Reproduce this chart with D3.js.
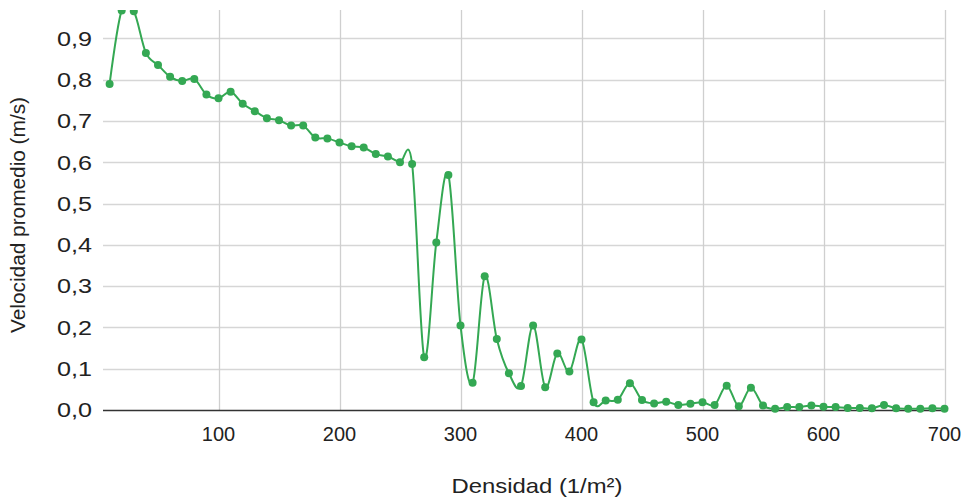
<!DOCTYPE html>
<html>
<head>
<meta charset="utf-8">
<script src="https://cdn.jsdelivr.net/npm/d3@7"></script>
<style>
  body { margin: 0; background: #fff; }
  svg { display: block; font-family: "Liberation Sans", Arial, sans-serif; }
</style>
</head>
<body>
<svg width="961" height="500"></svg>
<script>
// densidad (1/m²)
const densidad = [10, 20, 30, 40, 50, 60, 70, 80, 90, 100,
  110, 120, 130, 140, 150, 160, 170, 180, 190, 200,
  210, 220, 230, 240, 250, 260, 270, 280, 290, 300,
  310, 320, 330, 340, 350, 360, 370, 380, 390, 400,
  410, 420, 430, 440, 450, 460, 470, 480, 490, 500,
  510, 520, 530, 540, 550, 560, 570, 580, 590, 600,
  610, 620, 630, 640, 650, 660, 670, 680, 690, 700]

// velocidad promedio (m/s)
const velocidad = [0.790, 0.968, 0.966, 0.865, 0.836, 0.807, 0.797, 0.802, 0.764, 0.755,
  0.771, 0.742, 0.724, 0.707, 0.702, 0.689, 0.689, 0.660, 0.658, 0.648,
  0.639, 0.636, 0.620, 0.614, 0.600, 0.596, 0.128, 0.406, 0.569, 0.205,
  0.066, 0.324, 0.172, 0.089, 0.058, 0.205, 0.055, 0.137, 0.093, 0.171,
  0.019, 0.023, 0.025, 0.065, 0.024, 0.016, 0.020, 0.012, 0.015, 0.019,
  0.012, 0.059, 0.009, 0.054, 0.011, 0.003, 0.007, 0.007, 0.011, 0.008,
  0.007, 0.005, 0.005, 0.004, 0.012, 0.004, 0.003, 0.003, 0.004, 0.003]

const xTicks = [100, 200, 300, 400, 500, 600, 700]
const yTicks = [0, 0.1, 0.2, 0.3, 0.4, 0.5, 0.6, 0.7, 0.8, 0.9]

const svg = d3.select("svg")
const plotLeft = 109.6, plotRight = 944.5, plotTop = 10, plotBottom = 410

const x = d3.scaleLinear().domain([10, 700]).range([plotLeft, plotRight])
const y = d3.scaleLinear().domain([0, 0.969]).range([plotBottom, plotTop])
const fmt = d => d3.format(".1f")(d).replace(".", ",")

svg.append("defs").append("clipPath").attr("id", "plot")
  .append("rect").attr("x", 0).attr("y", plotTop).attr("width", 961).attr("height", 500 - plotTop)

// horizontal grid + y labels
const yg = svg.append("g")
yg.selectAll("line").data(yTicks.filter(d => d > 0)).enter().append("line")
  .attr("x1", 103).attr("x2", plotRight)
  .attr("y1", d => Math.round(y(d)) + 0.5).attr("y2", d => Math.round(y(d)) + 0.5)
  .attr("stroke", "#d6d6d6").attr("stroke-width", 1.3)
yg.selectAll("text").data(yTicks).enter().append("text")
  .attr("x", 92).attr("y", d => y(d)).attr("dy", "0.36em")
  .attr("text-anchor", "end").attr("font-size", 20).attr("fill", "#222")
  .attr("textLength", 35).attr("lengthAdjust", "spacingAndGlyphs")
  .text(fmt)

// vertical grid + x labels
const xg = svg.append("g")
xg.selectAll("line").data(xTicks).enter().append("line")
  .attr("x1", d => Math.round(x(d)) + 0.5).attr("x2", d => Math.round(x(d)) + 0.5)
  .attr("y1", plotTop).attr("y2", plotBottom)
  .attr("stroke", "#cfcfcf").attr("stroke-width", 1.3)
xg.selectAll("text").data(xTicks).enter().append("text")
  .attr("x", d => x(d)).attr("y", 441)
  .attr("text-anchor", "middle").attr("font-size", 20).attr("fill", "#222")
  .text(d => d)

// baseline
svg.append("line")
  .attr("x1", 103).attr("x2", plotRight)
  .attr("y1", plotBottom + 0.5).attr("y2", plotBottom + 0.5)
  .attr("stroke", "#333").attr("stroke-width", 1.3)

// series
const data = densidad.map((d, i) => [d, velocidad[i]])
const series = svg.append("g").attr("clip-path", "url(#plot)")
series.append("path")
  .datum(data)
  .attr("fill", "none")
  .attr("stroke", "#34a853")
  .attr("stroke-width", 2)
  .attr("d", d3.line().x(d => x(d[0])).y(d => y(d[1])).curve(d3.curveCardinal.tension(0)))
series.selectAll("circle").data(data).enter().append("circle")
  .attr("cx", d => x(d[0])).attr("cy", d => y(d[1])).attr("r", 4)
  .attr("fill", "#34a853")

// axis titles
svg.append("text")
  .attr("x", 537).attr("y", 493)
  .attr("text-anchor", "middle").attr("font-size", 21).attr("fill", "#222")
  .attr("textLength", 171).attr("lengthAdjust", "spacingAndGlyphs")
  .text("Densidad (1/m²)")
svg.append("text")
  .attr("transform", "translate(25,215) rotate(-90)")
  .attr("text-anchor", "middle").attr("font-size", 20).attr("fill", "#222")
  .attr("textLength", 236).attr("lengthAdjust", "spacingAndGlyphs")
  .text("Velocidad promedio (m/s)")
</script>
</body>
</html>
